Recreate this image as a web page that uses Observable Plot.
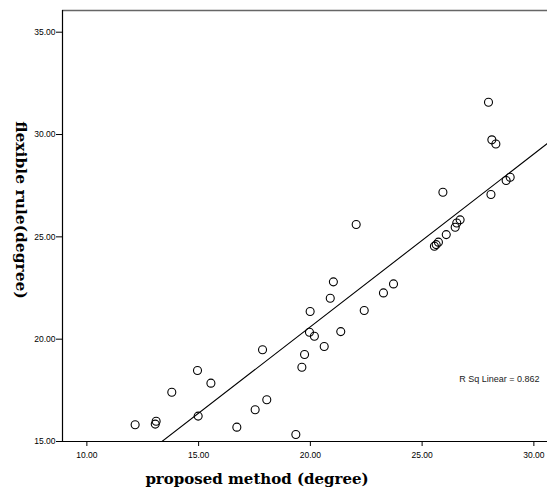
<!DOCTYPE html>
<html>
<head>
<meta charset="utf-8">
<script src="https://cdn.jsdelivr.net/npm/d3@7"></script>
<script src="https://cdn.jsdelivr.net/npm/@observablehq/plot@0.6"></script>
<style>
  html, body { margin: 0; padding: 0; background: #fff; }
</style>
</head>
<body>
<div id="chart"></div>
<script>
// proposed method (degree)
const proposed = [12.16, 13.06, 13.10, 13.80, 14.95, 15.55, 14.98, 16.71, 17.53, 18.05,
  17.86, 19.35, 19.62, 19.74, 19.96, 20.18, 21.03, 20.89, 19.99, 20.62, 21.36, 22.41,
  23.27, 23.72, 22.05, 25.93, 27.97, 28.12, 28.30, 28.08, 28.76, 28.94, 26.70, 26.55,
  26.48, 26.08, 25.73, 25.63, 25.55];
// flexible rule (degree)
const flexible = [15.82, 15.85, 15.99, 17.41, 18.47, 17.85, 16.24, 15.70, 16.55, 17.04,
  19.48, 15.34, 18.63, 19.25, 20.34, 20.14, 22.80, 22.00, 21.35, 19.64, 20.37, 21.40,
  22.26, 22.70, 25.60, 27.18, 31.58, 29.74, 29.54, 27.07, 27.75, 27.91, 25.83, 25.68,
  25.47, 25.11, 24.74, 24.62, 24.54];
const xTicks = [10, 15, 20, 25, 30];
const yTicks = [15, 20, 25, 30, 35];
const xDomain = [8.91, 30.61];
const yDomain = [15, 36.06];
const rSqLabel = "R Sq Linear = 0.862";
const xLabel = "proposed method (degree)";
const yLabel = "flexible rule(degree)";

const data = proposed.map((x, i) => ({x, y: flexible[i]}));

// least-squares fit through the data, drawn across the full x axis
const mx = d3.mean(proposed), my = d3.mean(flexible);
const slope = d3.sum(data, d => (d.x - mx) * (d.y - my)) / d3.sum(data, d => (d.x - mx) ** 2);
const intercept = my - slope * mx;
const fitLine = xDomain.map(x => ({x, y: intercept + slope * x}));

const fmt = d3.format(".2f");

const chart = Plot.plot({
  width: 547,
  height: 493,
  marginLeft: 62,
  marginRight: 0,
  marginTop: 10,
  marginBottom: 52,
  style: {fontFamily: "Liberation Sans, Arial, sans-serif", background: "#fff", color: "#000"},
  x: {domain: xDomain},
  y: {domain: yDomain},
  marks: [
    Plot.ruleY([yDomain[1]], {stroke: "#666", strokeWidth: 1.5}),
    Plot.line(fitLine, {x: "x", y: "y", stroke: "#000", strokeWidth: 1.1, clip: true}),
    Plot.dot(data, {x: "x", y: "y", r: 4, stroke: "#000", strokeWidth: 1.1, fill: "none"}),
    Plot.axisX({ticks: xTicks, tickFormat: fmt, tickSize: 5, tickPadding: 5, fontSize: 8.5, label: null, stroke: "#000"}),
    Plot.axisY({ticks: yTicks, tickFormat: fmt, tickSize: 6, tickPadding: 1, fontSize: 8.5, label: null, stroke: "#000"}),
    Plot.ruleX([xDomain[0]], {stroke: "#000", strokeWidth: 1.2}),
    Plot.ruleY([yDomain[0]], {stroke: "#000", strokeWidth: 1.2}),
    Plot.text([rSqLabel], {frameAnchor: "bottom-right", dx: -8, dy: -60, textAnchor: "end", fontSize: 9, fill: "#222"}),
    Plot.text([xLabel], {frameAnchor: "bottom", dx: -48, dy: 42, textAnchor: "middle", fontSize: 15, fontWeight: "bold", fontFamily: "DejaVu Serif, serif", fill: "#000"}),
    Plot.text([yLabel], {frameAnchor: "left", dx: -42, dy: -16, textAnchor: "middle", rotate: 90, fontSize: 15.5, fontWeight: "bold", fontFamily: "DejaVu Serif, serif", fill: "#000"})
  ]
});
document.getElementById("chart").appendChild(chart);
</script>
</body>
</html>
